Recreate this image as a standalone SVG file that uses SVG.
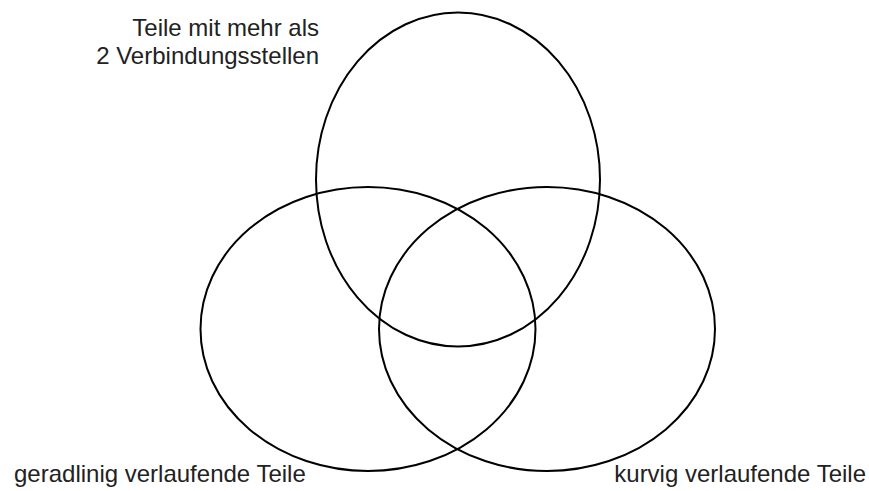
<svg xmlns="http://www.w3.org/2000/svg" width="869" height="491" viewBox="0 0 869 491">
<style>
.set{fill:none;stroke:#000;stroke-width:2}
.lbl{font-family:"Liberation Sans",Arial,sans-serif;font-size:24px;fill:#222}
</style>
<rect width="869" height="491" fill="#fff"/>
<g id="top-set">
<ellipse class="set" cx="458" cy="179.5" rx="142" ry="167"/>
<text class="lbl" x="319" y="36" text-anchor="end">Teile mit mehr als</text>
<text class="lbl" x="319" y="64" text-anchor="end">2 Verbindungsstellen</text>
</g>
<g id="left-set">
<ellipse class="set" cx="368" cy="329" rx="167.5" ry="142"/>
<text class="lbl" x="14" y="482">geradlinig verlaufende Teile</text>
</g>
<g id="right-set">
<ellipse class="set" cx="547" cy="329" rx="168" ry="142"/>
<text class="lbl" x="866" y="482" text-anchor="end">kurvig verlaufende Teile</text>
</g>
<g id="connectors"></g>
</svg>
